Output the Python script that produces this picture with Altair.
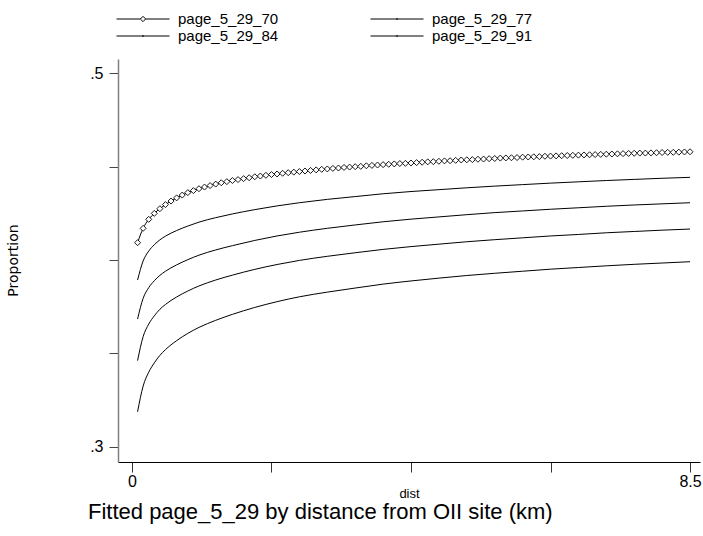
import altair as alt
import pandas as pd

# Distance grid (km) on which the fitted proportions were predicted
dist = [round(0.085 * i, 3) for i in range(1, 101)]

# Fitted proportion, series 70 (one value per grid point, drawn with markers)
fit_70 = [0.4093, 0.4170, 0.4218, 0.4250, 0.4275, 0.4297, 0.4316, 0.4333, 0.4348, 0.4361,
          0.4372, 0.4382, 0.4391, 0.4399, 0.4407, 0.4414, 0.4420, 0.4426, 0.4431, 0.4436,
          0.4441, 0.4446, 0.4450, 0.4454, 0.4458, 0.4461, 0.4465, 0.4468, 0.4471, 0.4474,
          0.4477, 0.4480, 0.4483, 0.4486, 0.4488, 0.4491, 0.4493, 0.4496, 0.4498, 0.4500,
          0.4502, 0.4505, 0.4507, 0.4509, 0.4511, 0.4513, 0.4515, 0.4517, 0.4518, 0.4520,
          0.4522, 0.4524, 0.4526, 0.4527, 0.4529, 0.4531, 0.4532, 0.4534, 0.4536, 0.4537,
          0.4538, 0.4540, 0.4541, 0.4543, 0.4544, 0.4546, 0.4547, 0.4548, 0.4549, 0.4551,
          0.4552, 0.4553, 0.4554, 0.4556, 0.4557, 0.4558, 0.4559, 0.4560, 0.4561, 0.4562,
          0.4563, 0.4564, 0.4565, 0.4566, 0.4567, 0.4568, 0.4569, 0.4570, 0.4571, 0.4572,
          0.4573, 0.4573, 0.4574, 0.4575, 0.4576, 0.4577, 0.4577, 0.4578, 0.4579, 0.4580]

# Grid positions (1-based) kept for the plain-line series
sub_idx = [1, 2, 3, 4, 5, 6, 8, 10, 12, 15, 18, 22, 26, 30, 35, 40, 45, 50, 55, 60,
           65, 70, 75, 80, 85, 90, 95, 100]

fit_77 = [0.3893, 0.3995, 0.4048, 0.4082, 0.4108, 0.4128, 0.4158, 0.4182, 0.4203, 0.4227,
          0.4247, 0.4270, 0.4290, 0.4307, 0.4325, 0.4340, 0.4355, 0.4367, 0.4377, 0.4387,
          0.4396, 0.4404, 0.4412, 0.4419, 0.4426, 0.4432, 0.4438, 0.4443]
fit_84 = [0.3684, 0.3795, 0.3852, 0.3889, 0.3918, 0.3940, 0.3974, 0.4002, 0.4026, 0.4054,
          0.4077, 0.4105, 0.4129, 0.4149, 0.4170, 0.4188, 0.4205, 0.4219, 0.4231, 0.4243,
          0.4254, 0.4263, 0.4272, 0.4280, 0.4288, 0.4295, 0.4301, 0.4307]
fit_91 = [0.3461, 0.3590, 0.3657, 0.3701, 0.3736, 0.3762, 0.3802, 0.3834, 0.3861, 0.3893,
          0.3919, 0.3950, 0.3976, 0.3998, 0.4020, 0.4039, 0.4057, 0.4072, 0.4085, 0.4098,
          0.4109, 0.4119, 0.4129, 0.4137, 0.4146, 0.4153, 0.4160, 0.4166]
fit_98 = [0.3187, 0.3325, 0.3399, 0.3449, 0.3489, 0.3520, 0.3568, 0.3607, 0.3639, 0.3677,
          0.3709, 0.3746, 0.3777, 0.3803, 0.3828, 0.3850, 0.3871, 0.3888, 0.3903, 0.3917,
          0.3929, 0.3940, 0.3951, 0.3960, 0.3969, 0.3977, 0.3984, 0.3991]

x_ticks = [0, 2.125, 4.25, 6.375, 8.5]
y_ticks = [0.3, 0.35, 0.4, 0.45, 0.5]

rows = [{"series": "page_5_29_70", "dist": d, "prop": v} for d, v in zip(dist, fit_70)]
for name, vals in [("page_5_29_77", fit_77), ("page_5_29_84", fit_84),
                   ("page_5_29_91", fit_91), ("page_5_29_98", fit_98)]:
    rows += [{"series": name, "dist": dist[i - 1], "prop": v} for i, v in zip(sub_idx, vals)]
df = pd.DataFrame(rows)

ARIAL = "Liberation Sans, Arial, sans-serif"

xscale = alt.Scale(domain=[-0.213, 8.652], nice=False, zero=False)
yscale = alt.Scale(domain=[0.2918, 0.5077], nice=False, zero=False)

xaxis = alt.Axis(
    values=x_ticks,
    labelExpr="datum.value == 0 ? '0' : (datum.value == 8.5 ? '8.5' : '')",
    grid=False, tickSize=10, tickColor="#333333", tickWidth=1,
    domainColor="#000000", domainWidth=1,
    labelFont=ARIAL, labelFontSize=16, labelColor="black", labelPadding=1,
    labelFlush=False, labelOverlap=False,
    title="dist", titleFont=ARIAL, titleFontSize=13, titleFontWeight="normal",
    titleColor="black", titleX=291, titleY=31, titleBaseline="middle", titleAlign="center",
)
yaxis = alt.Axis(
    values=y_ticks,
    labelExpr="datum.value == 0.3 ? '.3' : (datum.value == 0.5 ? '.5' : '')",
    grid=False, tickSize=9, tickColor="#444444", tickWidth=1,
    domainColor="#808080", domainWidth=1.5,
    labelFont=ARIAL, labelFontSize=16, labelColor="black", labelPadding=6,
    labelOverlap=False,
    title="Proportion", titleFont="DejaVu Sans", titleFontSize=14, titleFontWeight="normal",
    titleColor="black", titleAngle=270, titleX=-105, titleY=201,
    titleBaseline="middle", titleAlign="center",
)

lines = alt.Chart(df).mark_line(color="black", strokeWidth=1, interpolate="monotone").encode(
    x=alt.X("dist:Q", scale=xscale, axis=xaxis),
    y=alt.Y("prop:Q", scale=yscale, axis=yaxis),
    detail="series:N",
    order="dist:Q",
)

markers = alt.Chart(df).transform_filter(
    "datum.series == 'page_5_29_70'"
).mark_point(shape="diamond", filled=True, fill="white", stroke="black",
             strokeWidth=0.9, size=36, opacity=1).encode(
    x=alt.X("dist:Q", scale=xscale),
    y=alt.Y("prop:Q", scale=yscale),
)

# Legend keys: a line sample with the series marker in the middle
key_diamond = "M-1,0H-0.1M0.1,0H1M0,-0.1L0.1,0L0,0.1L-0.1,0Z"
key_plain = "M-1,0H1M0,-0.04V0.04"

legend_common = dict(
    orient="none", direction="horizontal", columns=2, title=None,
    symbolSize=2809, symbolStrokeWidth=1, symbolStrokeColor="black",
    symbolFillColor="white",
    labelFont=ARIAL, labelFontSize=15, labelColor="black", labelOffset=8,
    columnPadding=89, padding=0, offset=0, legendX=-2,
)

legend_row1 = alt.Chart(df).transform_filter("false").mark_point(
    opacity=1, stroke="black", filled=False
).encode(
    shape=alt.Shape(
        "series:N",
        scale=alt.Scale(domain=["page_5_29_70", "page_5_29_77"], range=[key_diamond, key_plain]),
        legend=alt.Legend(legendY=-67, **legend_common),
    )
)

legend_row2 = alt.Chart(df).transform_filter("false").mark_point(
    opacity=1, stroke="black", filled=False
).encode(
    color=alt.Color(
        "series:N",
        scale=alt.Scale(domain=["page_5_29_84", "page_5_29_91"], range=["black", "black"]),
        legend=alt.Legend(legendY=-50, symbolType=key_plain, **legend_common),
    )
)

chart = alt.layer(lines, markers, legend_row1, legend_row2).properties(
    width=582,
    height=403,
    padding={"left": 118, "top": 59, "right": 3, "bottom": 74},
    autosize=alt.AutoSizeParams(type="none"),
    background="white",
    title=alt.TitleParams(
        text="Fitted page_5_29 by distance from OII site (km)",
        orient="bottom", anchor="start", frame="group", dx=-30, offset=0, dy=2,
        font=ARIAL, fontSize=22, fontWeight="normal", color="black",
    ),
).configure_view(stroke=None)

chart.save("out.html", embed_options={"renderer": "svg", "actions": False})
